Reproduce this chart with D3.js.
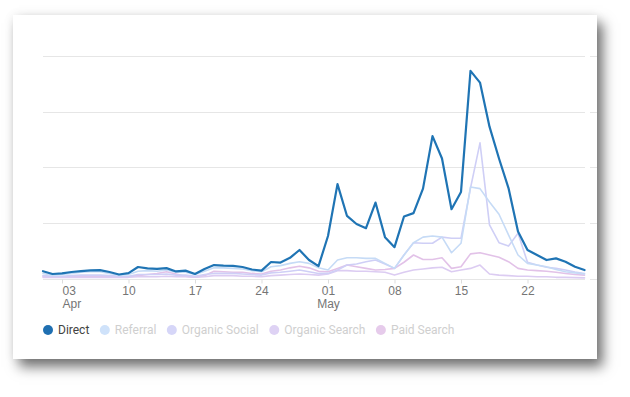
<!DOCTYPE html>
<html><head><meta charset="utf-8">
<script src="https://cdn.jsdelivr.net/npm/d3@7"></script>
<style>
html,body{margin:0;padding:0;background:#fff;width:630px;height:397px;overflow:hidden;}
#card{position:absolute;left:13px;top:15px;width:584px;height:344px;background:#fff;
 box-shadow:6px 8px 12px rgba(0,0,0,0.55),0 0 10px rgba(0,0,0,0.07);}
svg{position:absolute;left:0;top:0;font-family:Roboto,"Noto Sans",sans-serif;}
</style></head><body>
<div id="card"></div>
<svg id="chart" width="630" height="397"></svg>
<script>
// ---- data ----
const startDay = "2024-04-01", endDay = "2024-05-28";
const seriesNames = ["Direct","Referral","Organic Social","Organic Search","Paid Search"];
const direct = [14,9,10,12.5,14,15.5,16,12.5,8,10.5,21.5,19,18,19.5,13.5,15,9,18,25,24,23.5,21.5,17,15,30.5,29.5,38,52,34,23,
  77,170,113,98.5,91,137,75,57,112,118,162,256,216,125,156,373,352,273,216,163,85,52,43,34,37,31,22,16];
const referral = [10,7,8,10,12,13,13,10,7,8,14,15,14,16,12,12,8,14,20,20,19,18,15,13,22,24,28,31,28,20,
  16,34,38,38,37,37,28,19,43,65,75,77,75,47,64,165,162,138,116,79,43,28,25,22,17,13,11,9];
const organicSocial = [6,5,5,6,7,7,7,6,5,5,8,8,8,9,7,7,5,8,10,10,10,9,8,7,11,12,14,16,13,10,
  10,16,25,27,31,34,27,19,43,65,64,64,75,73,73,163,244,97,65,59,82,30,25,21,19,16,12.5,10];
const organicSearch = [3,3,3,3,3,3,3,3,3,3,4,4,4,5,4,4,3,4,6,6,6,5,5,4,6,7,8,9,8,7,
  9,15,15,14,14,13,12,7,12,16,18,20,21,13,16,19,25,9,7,6,5,5,4,4,3,3,2.5,2];
const paidSearch = [5,4,4,4,5,5,5,4,3,4,6,8,10,13,9,5,3,6,14,13,12,12,10,9,14,16,20,23,20,14,
  13,19,25,22,19,16,17,19,30,43,35,35,38,19,22,45,47,43,39,31,19,16,15,14,12,10,8,7];
const yTicks = [0,100,200,300,400];
const xTickDates = ["2024-04-03","2024-04-10","2024-04-17","2024-04-24","2024-05-01","2024-05-08","2024-05-15","2024-05-22"];
const xTickLabels = ["03","10","17","24","01","08","15","22"];
const xMonthLabels = ["Apr","","","","May","","",""];

// ---- styles ----
const lineColors = ["#1f74b4","#c6dbf6","#cfcff6","#dcccf2","#e2c2e8"];
const legendColors = ["#1f6fb1","#cfe2fa","#d6d6f8","#ded2f4","#e6cbeb"];

const svg = d3.select("#chart");
const parse = d3.utcParse("%Y-%m-%d");
const days = d3.utcDay.range(parse(startDay), d3.utcDay.offset(parse(endDay),1));
const values = [direct, referral, organicSocial, organicSearch, paidSearch];

const x = d3.scaleUtc().domain([parse(startDay), parse(endDay)]).range([43, 584.5]);
const y = d3.scaleLinear().domain([0,400]).range([279, 55.8]);

// gridlines
const grid = svg.append("g");
grid.selectAll("line.g").data(yTicks).join("line")
  .attr("x1",43).attr("x2",585).attr("y1",d=>Math.round(y(d))+0.5).attr("y2",d=>Math.round(y(d))+0.5)
  .attr("stroke","#e6e6e6").attr("stroke-width",1);
grid.selectAll("line.r").data(yTicks).join("line")
  .attr("x1",590).attr("x2",597).attr("y1",d=>Math.round(y(d))+0.5).attr("y2",d=>Math.round(y(d))+0.5)
  .attr("stroke","#e6e6e6").attr("stroke-width",1);

// x axis
const xAxis = d3.axisBottom(x).tickValues(xTickDates.map(parse)).tickSize(4).tickPadding(3).tickFormat("");
const gx = svg.append("g").attr("transform","translate(0,279.5)").call(xAxis);
gx.select(".domain").remove();
gx.selectAll(".tick line").attr("stroke","#dddddd");
gx.selectAll(".tick").each(function(d,i){
  const g = d3.select(this);
  const anchor = i===0 ? "start" : "middle";
  g.append("text").attr("y",15).attr("fill","#757575").attr("font-size","12px")
    .attr("text-anchor", anchor).text(xTickLabels[i]);
  if (xMonthLabels[i]) {
    g.append("text").attr("y",28.5).attr("fill","#757575").attr("font-size","12px")
      .attr("text-anchor", anchor).text(xMonthLabels[i]);
  }
});

// lines
const line = d3.line().x((d,i)=>x(days[i])).y(d=>y(d));
const order = [4,3,2,1,0];
order.forEach(k=>{
  svg.append("path").datum(values[k])
    .attr("fill","none").attr("stroke",lineColors[k])
    .attr("stroke-width", k===0?2.2:1.6)
    .attr("stroke-linejoin","round").attr("stroke-linecap","round")
    .attr("d",line);
});

// legend
const lg = svg.append("g");
let cx = 48;
seriesNames.forEach((name,i)=>{
  lg.append("circle").attr("cx",cx).attr("cy",330).attr("r",5).attr("fill",legendColors[i]);
  const t = lg.append("text").attr("x",cx+10).attr("y",334.3).attr("font-size","12px")
    .attr("fill", i===0?"#424242":"#cfcfcf").text(name);
  const w = t.node().getComputedTextLength();
  cx = cx + 10 + w + 15.5;
});
</script>
</body></html>
